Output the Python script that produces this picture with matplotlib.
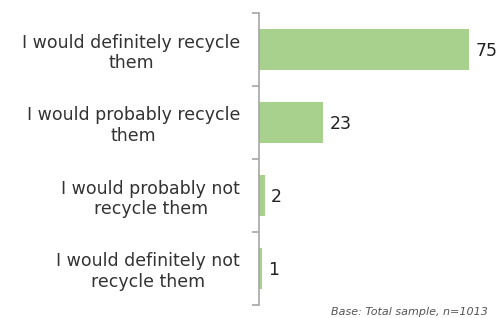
import numpy as np
import matplotlib.pyplot as plt

labels = ["I would definitely recycle\nthem",
          "I would probably recycle\nthem",
          "I would probably not\nrecycle them",
          "I would definitely not\nrecycle them"]
values = [75, 23, 2, 1]

fig = plt.figure(figsize=(4.99, 3.18), dpi=100)
ax = fig.add_axes([259 / 499, 13 / 318, 224 / 499, 292 / 318])

y = np.arange(len(values))
ax.barh(y, values, height=0.55, color="#A9D18E")
ax.set_xlim(0, 80)
ax.set_ylim(len(values) - 0.5, -0.5)

for yi, v in zip(y, values):
    ax.text(v + 2.3, yi + 0.02, str(v), va="center", ha="left", fontsize=12.5, color="#222222")

ax.set_yticks(np.arange(-0.5, len(values)), minor=False)
ax.set_yticklabels([])
ax.set_yticks(y, minor=True)
ax.set_yticklabels(labels, minor=True, fontsize=12.5, color="#333333",
                   multialignment="center", linespacing=1.2)
ax.tick_params(axis="y", which="major", length=5, color="#A6A6A6", width=1.2)
ax.tick_params(axis="y", which="minor", length=0, pad=13.5)
ax.set_xticks([])
for s in ["top", "right", "bottom"]:
    ax.spines[s].set_visible(False)
ax.spines["left"].set_color("#A6A6A6")
ax.spines["left"].set_linewidth(1.2)

fig.text(488 / 499, 1 - 312 / 318, "Base: Total sample, n=1013", ha="right", va="center",
         fontsize=8, style="italic", color="#555555")

fig.savefig("out.png", dpi=100)
